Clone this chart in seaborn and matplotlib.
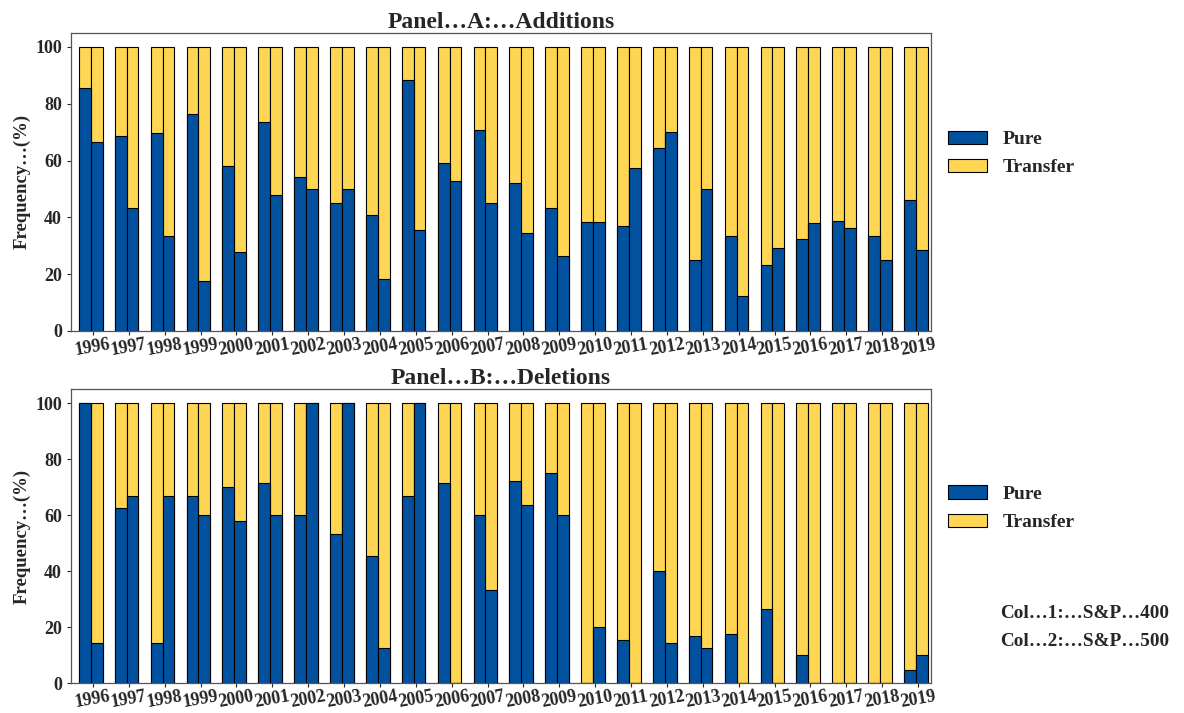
import numpy as np
import pandas as pd
import matplotlib
matplotlib.use("Agg")
import matplotlib.pyplot as plt
import seaborn as sns
from matplotlib.patches import Patch

years = list(range(1996, 2020))

# share of "pure" changes (%), the rest is "transfer"
add_sp400 = [85.7, 68.5, 69.6, 76.3, 58.0, 73.6, 54.2, 45.2, 40.7, 88.4, 59.1, 70.9,
             52.1, 43.3, 38.4, 36.9, 64.4, 25.0, 33.3, 23.2, 32.4, 38.8, 33.3, 46.2]
add_sp500 = [66.7, 43.4, 33.3, 17.6, 27.8, 47.9, 50.0, 50.0, 18.2, 35.7, 52.9, 45.2,
             34.6, 26.3, 38.4, 57.2, 69.9, 50.0, 12.4, 29.2, 38.1, 36.3, 25.0, 28.5]
del_sp400 = [100.0, 62.5, 14.3, 66.7, 70.0, 71.5, 60.0, 53.3, 45.5, 66.7, 71.5, 60.0,
             72.2, 75.0, 0.0, 15.3, 40.0, 16.7, 17.5, 26.5, 10.0, 0.0, 0.0, 4.5]
del_sp500 = [14.3, 66.7, 66.7, 60.0, 57.9, 60.0, 100.0, 100.0, 12.5, 100.0, 0.0, 33.3,
             63.6, 60.0, 20.0, 0.0, 14.3, 12.5, 0.0, 0.0, 0.0, 0.0, 0.0, 10.0]

panel_titles = ["Panel…A:…Additions", "Panel…B:…Deletions"]
col_labels = ["Col…1:…S&P…400", "Col…2:…S&P…500"]

blue = "#02519F"
yellow = "#FFD653"

sns.set_style("ticks")
plt.rcParams["font.family"] = ["Liberation Serif", "DejaVu Serif"]
plt.rcParams["font.weight"] = "bold"

fig = plt.figure(figsize=(11.84, 7.13), dpi=100)
ax_top = fig.add_axes([0.060, 0.536, 0.726, 0.418])
ax_bot = fig.add_axes([0.060, 0.042, 0.726, 0.412])

panels = [(ax_top, add_sp400, add_sp500), (ax_bot, del_sp400, del_sp500)]

for k, (ax, c1, c2) in enumerate(panels):
    df = pd.DataFrame({
        "year": [str(y) for y in years] * 2,
        "col": ["c1"] * len(years) + ["c2"] * len(years),
        "pure": c1 + c2,
    })
    df["total"] = 100.0

    sns.barplot(data=df, x="year", y="total", hue="col", palette=[yellow, yellow],
                width=0.66, gap=0, saturation=1, errorbar=None, legend=False,
                edgecolor="black", linewidth=0.8, ax=ax)
    sns.barplot(data=df, x="year", y="pure", hue="col", palette=[blue, blue],
                width=0.66, gap=0, saturation=1, errorbar=None, legend=False,
                edgecolor="black", linewidth=0.8, ax=ax)

    ax.set_xlim(-0.55, 23.41)
    ax.set_ylim(0, 105)
    ax.set_yticks(range(0, 101, 20))
    ax.set_xticks(np.arange(len(years)) + 0.06)
    ax.set_xticklabels([str(y) for y in years], rotation=10, fontsize=13,
                       fontweight="bold")
    for lab in ax.get_yticklabels():
        lab.set_fontsize(13)
        lab.set_fontweight("bold")
    ax.set_xlabel("")
    ax.set_ylabel("Frequency…(%)", fontsize=13.5, fontweight="bold", labelpad=3)
    ax.set_title(panel_titles[k], fontsize=17, fontweight="bold", pad=3)
    for sp in ax.spines.values():
        sp.set_visible(True)
        sp.set_color("#555555")
        sp.set_linewidth(0.9)
    ax.tick_params(axis="both", length=3, width=0.8)
    ax.tick_params(axis="x", pad=0.5)

    handles = [Patch(facecolor=blue, edgecolor="black", linewidth=0.8, label="Pure"),
               Patch(facecolor=yellow, edgecolor="black", linewidth=0.8, label="Transfer")]
    ax.legend(handles=handles, loc="center left", bbox_to_anchor=(1.0, 0.595),
              frameon=False, handlelength=2.0, handleheight=0.7,
              handletextpad=0.8, labelspacing=0.55,
              prop={"size": 14, "weight": "bold"})

fig.text(0.8445, 1 - 613 / 713, col_labels[0], fontsize=13.8, fontweight="bold", va="center")
fig.text(0.8445, 1 - 641 / 713, col_labels[1], fontsize=13.8, fontweight="bold", va="center")

fig.savefig("out.png", dpi=100)
